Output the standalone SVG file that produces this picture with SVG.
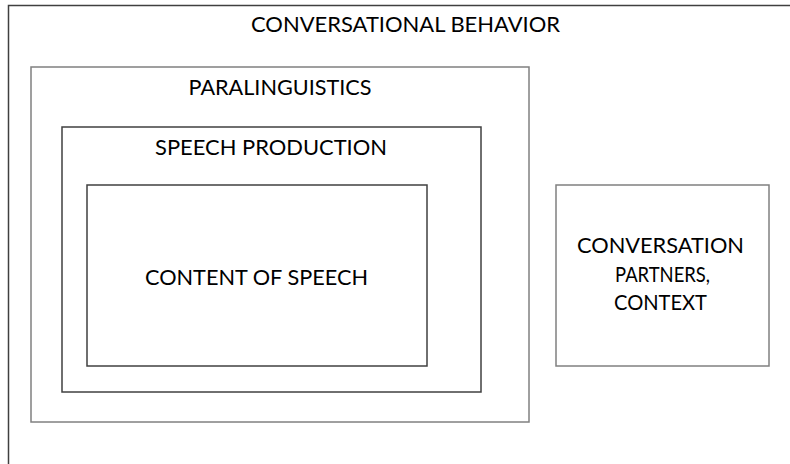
<svg xmlns="http://www.w3.org/2000/svg" width="790" height="464" viewBox="0 0 790 464">
<style>
.box{fill:none;stroke-width:1.5}
.dark{stroke:#404040}
.grey{stroke:#808080}
text{font-family:Lato,"Open Sans","Liberation Sans",sans-serif;font-size:21.5px;fill:#000;text-anchor:middle}
</style>
<rect width="790" height="464" fill="#fff"/>
<g id="conversational-behavior">
<rect class="box dark" x="8.5" y="5.5" width="800" height="480"/>
<text x="405.5" y="31.5" textLength="309" lengthAdjust="spacingAndGlyphs">CONVERSATIONAL BEHAVIOR</text>
</g>
<g id="paralinguistics">
<rect class="box grey" x="31" y="67" width="498" height="355"/>
<text x="280" y="95" textLength="183" lengthAdjust="spacingAndGlyphs">PARALINGUISTICS</text>
</g>
<g id="speech-production">
<rect class="box dark" x="62" y="127" width="419" height="265"/>
<text x="271" y="155" textLength="232" lengthAdjust="spacingAndGlyphs">SPEECH PRODUCTION</text>
</g>
<g id="content-of-speech">
<rect class="box dark" x="87" y="185" width="340" height="181"/>
<text x="256.5" y="285" textLength="223" lengthAdjust="spacingAndGlyphs">CONTENT OF SPEECH</text>
</g>
<g id="conversation-partners">
<rect class="box grey" x="556" y="185" width="213" height="181"/>
<text x="660.5" y="253" textLength="167" lengthAdjust="spacingAndGlyphs">CONVERSATION</text>
<text x="662.5" y="282" textLength="95" lengthAdjust="spacingAndGlyphs">PARTNERS,</text>
<text x="660.5" y="310" textLength="93" lengthAdjust="spacingAndGlyphs">CONTEXT</text>
</g>
<g id="connectors"></g>
</svg>
